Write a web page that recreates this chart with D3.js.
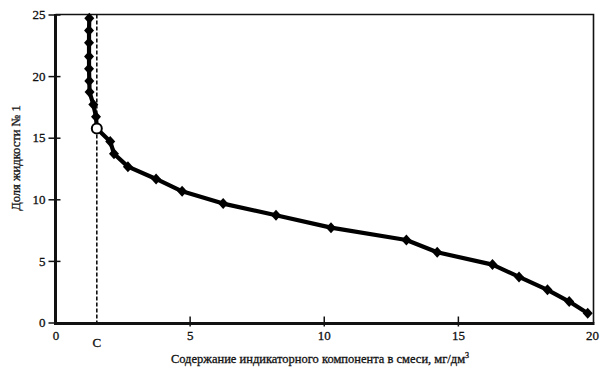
<!DOCTYPE html>
<html>
<head>
<meta charset="utf-8">
<script src="https://cdn.jsdelivr.net/npm/d3@7"></script>
<style>
  body { margin: 0; background: #fff; }
  svg { display: block; }
  text { font-family: 'Liberation Serif', 'DejaVu Serif', serif; }
</style>
</head>
<body>
<div id="chart"></div>
<script>
const width = 605;
const height = 371;

// Кривая: содержание компонента (x) и доля жидкости № 1 (y)
const conc = [1.26, 1.25, 1.25, 1.25, 1.25, 1.26, 1.27, 1.41, 1.51, 1.54,
  2.04, 2.18, 2.70, 3.75, 4.72, 6.25, 8.22, 10.27, 13.08, 14.23,
  16.29, 17.28, 18.34, 19.15, 19.84];
const share = [24.7, 23.7, 22.7, 21.6, 20.6, 19.6, 18.7, 17.7, 16.7, 15.75,
  14.7, 13.7, 12.65, 11.65, 10.65, 9.65, 8.7, 7.7, 6.7, 5.7,
  4.7, 3.7, 2.65, 1.7, 0.75];
// точка С (открытый кружок)
const cIndex = 9;
const cValue = 1.54;

const xTicks = [0, 5, 10, 15, 20];
const yTicks = [0, 5, 10, 15, 20, 25];
const xTitle = "Содержание индикаторного компонента в смеси, мг/дм";
const yTitle = "Доля жидкости № 1";

const points = conc.map((c, i) => ({x: c, y: share[i], open: i === cIndex}));

const x = d3.scaleLinear().domain([0, 20]).range([55.5, 592]);
const y = d3.scaleLinear().domain([0, 25]).range([322.5, 14.5]);

const svg = d3.select("#chart").append("svg")
  .attr("width", width)
  .attr("height", height);

// рамка: верх и правый край
svg.append("path")
  .attr("d", `M${x(0)},${y(25)}H${x(20) + 1.5}V${y(0)}`)
  .attr("fill", "none")
  .attr("stroke", "#111")
  .attr("stroke-width", 1.6);

// пунктир C
svg.append("line")
  .attr("x1", x(cValue)).attr("x2", x(cValue))
  .attr("y1", y(25)).attr("y2", y(0))
  .attr("stroke", "#111")
  .attr("stroke-width", 1.6)
  .attr("stroke-dasharray", "4,2");

// оси
const xAxis = d3.axisBottom(x).tickValues(xTicks).tickSizeInner(-7).tickSizeOuter(0).tickPadding(8);
const gx = svg.append("g")
  .attr("transform", `translate(0,${y(0) + 1})`)
  .call(xAxis)
  .attr("font-family", null);
gx.select(".domain").attr("stroke", "#111").attr("stroke-width", 3)
  .attr("d", `M${x(0) - 1.5},0H${x(20) + 2.5}`);
gx.selectAll(".tick line").attr("stroke", "#111").attr("stroke-width", 1.5)
  .attr("y1", 3);
gx.selectAll(".tick").filter(d => d === 0 || d === 20).select("line").remove();
gx.selectAll(".tick text").attr("fill", "#111").attr("font-size", 13).attr("dy", "0.62em")
  .attr("stroke", "#111").attr("stroke-width", 0.3);

// метка C на оси x
gx.append("text")
  .attr("x", x(cValue))
  .attr("y", 15)
  .attr("dy", "0.62em")
  .attr("text-anchor", "middle")
  .attr("fill", "#111")
  .attr("stroke", "#111").attr("stroke-width", 0.3)
  .attr("font-size", 13)
  .text("C");

const yAxis = d3.axisLeft(y).tickValues(yTicks).tickSizeInner(7).tickSizeOuter(0).tickPadding(3);
const gy = svg.append("g")
  .attr("transform", `translate(${x(0)},0)`)
  .call(yAxis)
  .attr("font-family", null);
gy.select(".domain").attr("stroke", "#111").attr("stroke-width", 3)
  .attr("d", `M0,${y(25) - 0.5}V${y(0) + 2.5}`);
gy.selectAll(".tick line").attr("stroke", "#111").attr("stroke-width", 1.5)
  .attr("x2", -7).attr("x1", 5);
gy.selectAll(".tick text").attr("fill", "#111").attr("font-size", 13).attr("x", -10)
  .attr("stroke", "#111").attr("stroke-width", 0.3);

// кривая
const line = d3.line().x(d => x(d.x)).y(d => y(d.y));
svg.append("path")
  .datum(points)
  .attr("d", line)
  .attr("fill", "none")
  .attr("stroke", "#000")
  .attr("stroke-width", 4.2)
  .attr("stroke-linejoin", "round");

// ромбы
svg.append("g")
  .selectAll("path")
  .data(points.filter(d => !d.open))
  .join("path")
  .attr("transform", d => `translate(${x(d.x)},${y(d.y)})`)
  .attr("d", "M0,-5.5L5,0L0,5.5L-5,0Z")
  .attr("fill", "#000");

// открытый кружок
svg.append("circle")
  .datum(points[cIndex])
  .attr("cx", d => x(d.x))
  .attr("cy", d => y(d.y))
  .attr("r", 5)
  .attr("fill", "#fff")
  .attr("stroke", "#000")
  .attr("stroke-width", 2);

// подписи осей
const xt = svg.append("text")
  .attr("x", 320)
  .attr("y", 363)
  .attr("text-anchor", "middle")
  .attr("fill", "#111")
  .attr("stroke", "#111").attr("stroke-width", 0.3)
  .attr("font-size", 12.5)
  .text(xTitle);
xt.append("tspan").attr("dy", -5).attr("font-size", 8).text("3");

svg.append("text")
  .attr("transform", "translate(20,158) rotate(-90)")
  .attr("text-anchor", "middle")
  .attr("fill", "#111")
  .attr("stroke", "#111").attr("stroke-width", 0.3)
  .attr("font-size", 12.5)
  .text(yTitle);
</script>
</body>
</html>
